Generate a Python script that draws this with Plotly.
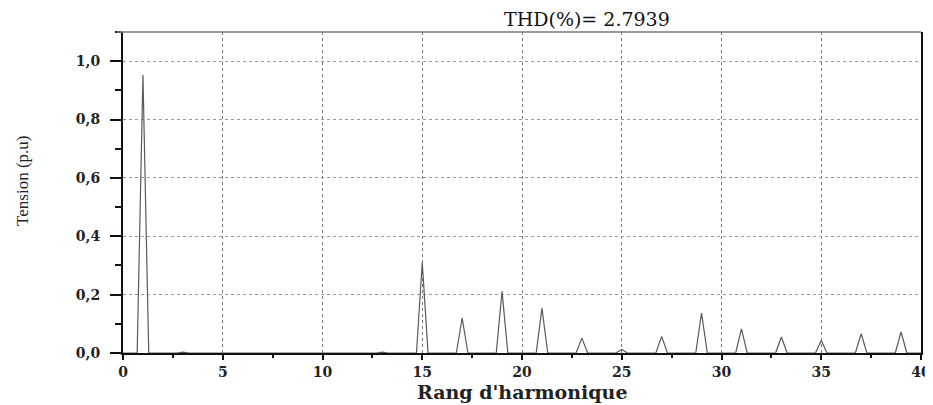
import plotly.graph_objects as go

# Harmonic spectrum data
harmonic_orders = [1, 3, 13, 15, 17, 19, 21, 23, 25, 27, 29, 31, 33, 35, 37, 39]
amplitudes = [0.953, 0.003, 0.003, 0.31, 0.12, 0.211, 0.154, 0.051, 0.012,
              0.057, 0.137, 0.083, 0.055, 0.043, 0.066, 0.072]
thd_percent = 2.7939
x_tick_values = [0, 5, 10, 15, 20, 25, 30, 35, 40]
y_tick_values = [0.0, 0.2, 0.4, 0.6, 0.8, 1.0]

# Build the spectrum line: each harmonic drawn as a narrow triangle on the baseline
half_width = 0.29
xs, ys = [0.0], [0.0]
for h, a in zip(harmonic_orders, amplitudes):
    xs += [h - half_width, h, h + half_width]
    ys += [0.0, a, 0.0]
xs.append(40.0)
ys.append(0.0)

fig = go.Figure()
fig.add_trace(go.Scatter(x=xs, y=ys, mode="lines",
                         line=dict(color="#5a5a5a", width=1.2),
                         showlegend=False, hoverinfo="skip"))

serif = "Liberation Serif"
wide_serif = "DejaVu Serif"
tick_font = dict(family=wide_serif, size=14, color="#222", weight="bold")
# page body has an 8px margin, so the figure is sized/offset to compensate
fig.update_layout(
    width=925, height=397,
    margin=dict(l=115, r=12, t=24, b=52, autoexpand=False),
    paper_bgcolor="white", plot_bgcolor="white",
    separators=", ",
    xaxis=dict(range=[0, 40], tickvals=x_tick_values, showline=True, automargin=False,
               linecolor="#111", linewidth=2, mirror=False,
               ticks="outside", ticklen=5, tickwidth=2, tickcolor="#111",
               minor=dict(dtick=2.5, tick0=0, ticks="outside", ticklen=3,
                          tickwidth=2, tickcolor="#111", showgrid=False),
               showgrid=True, gridcolor="#7a7a7a", gridwidth=1, griddash="dot",
               zeroline=False, tickfont=tick_font),
    yaxis=dict(range=[0, 1.1], tickvals=y_tick_values, tickformat=".1f", automargin=False,
               showline=True, linecolor="#111", linewidth=2, mirror=True,
               ticks="outside", ticklen=11, tickwidth=2, tickcolor="#111",
               ticklabelstandoff=7,
               minor=dict(dtick=0.1, tick0=0, ticks="outside", ticklen=6,
                          tickwidth=1.5, tickcolor="#111", showgrid=False),
               showgrid=True, gridcolor="#9a9a9a", gridwidth=1, griddash="dot",
               zeroline=False, tickfont=tick_font),
)
# top frame line (grey)
fig.add_shape(type="line", xref="paper", yref="paper", x0=-0.008, x1=1, y0=1, y1=1,
              line=dict(color="#777", width=1.5))

# Titles as annotations
fig.add_annotation(text=f"THD(%)= {thd_percent}", xref="paper", yref="paper",
                   x=0.581, y=1.0, xanchor="center", yanchor="middle", yshift=13,
                   showarrow=False, font=dict(family=wide_serif, size=19, color="#111"))
fig.add_annotation(text="Rang d'harmonique", xref="paper", yref="paper",
                   x=0.5, y=0, xanchor="center", yanchor="middle", yshift=-39,
                   showarrow=False,
                   font=dict(family=wide_serif, size=19, color="#222", weight="bold"))
fig.add_annotation(text="Tension (p.u)", xref="paper", yref="paper",
                   x=0, y=0.536, xanchor="center", yanchor="middle", xshift=-100,
                   textangle=-90, showarrow=False,
                   font=dict(family=serif, size=17, color="#222"))

fig.write_html("out.html")
